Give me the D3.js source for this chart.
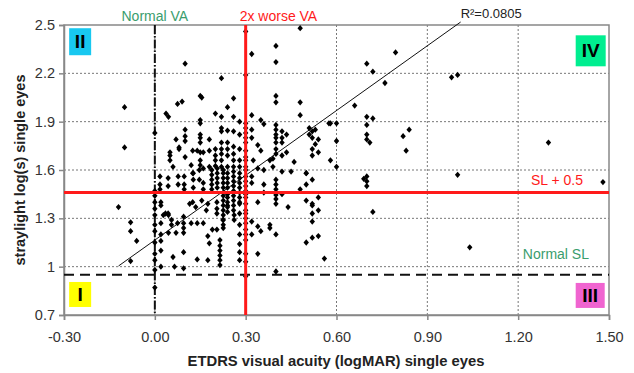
<!DOCTYPE html>
<html><head><meta charset="utf-8">
<script src="https://cdn.jsdelivr.net/npm/d3@7"></script>
<style>
html,body{margin:0;padding:0;background:#fff;}
svg text{font-family:Arial,"Liberation Sans",sans-serif;}
</style></head>
<body><svg id="c" width="634" height="373"></svg>
<script>
// ---- data ----
const xTicks = [-0.30, 0.00, 0.30, 0.60, 0.90, 1.20, 1.50];
const xTickLabels = ["-0.30","0.00","0.30","0.60","0.90","1.20","1.50"];
const yTicks = [0.7, 1.0, 1.3, 1.6, 1.9, 2.2, 2.5];
const yTickLabels = ["0.7","1","1.3","1.6","1.9","2.2","2.5"];
const normalVA = 0.00, worseVA = 0.30;
const normalSL = 0.95, slPlus = 1.46;
const regression = {slope: 1.34, intercept: 1.165, x0: -0.12, x1: 1.01, r2: "R²=0.0805"};
const points = [
[-0.10,1.99],[-0.10,1.74],[-0.12,1.37],[-0.08,1.275],[-0.08,1.22],[-0.06,1.16],[-0.08,1.035],
[0.10,2.26],[0.22,2.17],[0.30,2.46],[0.32,2.32],[0.40,2.37],[0.40,2.27],[0.30,2.19],[0.40,2.06],[0.40,2.02],[0.48,2.48],[0.48,2.02],[0.48,1.94],[0.32,1.94],[0.26,2.045],[0.24,1.99],[0.15,2.06],[0.155,2.05],[0.09,2.025],[0.075,2.01],[0.037,1.95],[0.045,1.93],[0.0,1.83],
[0.795,2.33],[0.70,2.26],[0.72,2.21],[0.76,2.14],[0.66,2.00],[0.98,2.175],[1.00,2.19],[0.70,1.93],[0.72,1.92],[0.70,1.88],[0.575,1.89],[0.58,1.89],[0.60,1.89],
[0.58,1.66],[0.60,1.62],[0.60,1.78],[0.70,1.82],[0.70,1.79],[0.71,1.77],[0.82,1.81],[0.84,1.85],[0.83,1.72],[1.30,1.77],[1.00,1.57],[0.69,1.545],[0.70,1.56],[0.70,1.53],[0.70,1.50],[1.48,1.525],
[0.52,1.38],[0.54,1.43],[0.52,1.33],[0.54,1.35],[0.52,1.28],[0.52,1.18],[0.54,1.19],[0.56,1.05],[0.72,1.34],[1.04,1.12],
[0.51,1.86],[0.52,1.84],[0.53,1.85],[0.51,1.82],[0.52,1.80],[0.54,1.79],[0.53,1.76],[0.52,1.73],[0.54,1.71],[0.52,1.69],[0.50,1.58],
[0.32,1.56],[0.32,1.52],[0.34,1.40],[0.32,1.28],[0.32,1.20],[0.34,1.25],[0.35,1.22],[0.34,1.08],[0.38,1.26],[0.38,1.24],[0.36,1.51],[0.36,1.46],
[0.40,1.54],[0.40,1.51],[0.40,1.48],[0.40,1.445],[0.40,1.42],[0.40,1.39],[0.42,1.45],[0.40,1.20],[0.44,1.37],[0.40,0.97],[0.48,1.48],[0.50,1.51],[0.50,1.58],[0.52,1.54],[0.50,1.41],[0.52,1.39],[0.50,1.15],[0.42,1.59],[0.45,1.59],
[0.35,1.91],[0.36,1.885],[0.40,1.88],[0.40,1.85],[0.40,1.82],[0.40,1.80],[0.40,1.77],[0.40,1.73],[0.42,1.84],[0.435,1.82],[0.42,1.80],[0.42,1.77],[0.32,1.85],[0.32,1.80],[0.34,1.755],[0.35,1.72],[0.40,1.70],[0.39,1.67],[0.42,1.69],[0.435,1.71],[0.46,1.65],[0.325,1.66],[0.34,1.61],[0.36,1.60],[0.38,1.66],[0.39,1.62],
[0.30,1.89],[0.30,1.86],[0.30,1.83],[0.30,1.80],[0.30,1.77],[0.30,1.72],[0.30,1.68],[0.30,1.66],[0.30,1.62],[0.30,1.60],[0.30,1.56],[0.30,1.53],[0.30,1.50],[0.30,1.39],[0.30,1.35],[0.30,1.33],[0.30,1.30],[0.30,1.27],[0.30,1.23],[0.30,1.20],[0.30,1.165],[0.30,1.08],[0.30,1.03],[0.30,0.94],
[0.20,1.95],[0.22,1.93],[0.26,1.93],[0.28,1.90],[0.15,1.91],[0.15,1.89],[0.10,1.85],[0.10,1.81],[0.10,1.78],[0.15,1.82],[0.15,1.80],[0.15,1.77],[0.18,1.79],[0.22,1.86],[0.22,1.84],[0.24,1.845],[0.26,1.84],[0.28,1.82],[0.08,1.74],[0.10,1.68],[0.125,1.72],[0.14,1.72],[0.15,1.71],[0.16,1.71],[0.18,1.72],[0.20,1.73],[0.20,1.69],[0.20,1.66],[0.22,1.77],[0.22,1.73],[0.22,1.70],[0.22,1.66],[0.24,1.77],[0.24,1.73],[0.24,1.69],[0.26,1.745],[0.26,1.70],[0.26,1.66],[0.28,1.73],[0.28,1.66],[0.28,1.62],[0.05,1.69],[0.05,1.66],[0.06,1.62],[0.12,1.63],[0.15,1.66],[0.15,1.63],[0.16,1.61],[0.18,1.62],[0.20,1.625],[0.22,1.62],[0.24,1.62],[0.26,1.62],[0.125,1.58],[0.07,1.79],[0.05,1.71],[0.08,1.73],
[0.017,1.56],[0.017,1.51],[0.017,1.48],[0.044,1.55],[0.044,1.50],[0.077,1.51],[0.077,1.56],[0.097,1.56],[0.097,1.51],[0.097,1.48],[0.127,1.54],[0.127,1.58],[0.127,1.49],[0.147,1.54],[0.147,1.60],[0.16,1.52],[0.16,1.48],
[0.188,1.57],[0.188,1.54],[0.188,1.51],[0.188,1.48],[0.188,1.60],[0.206,1.58],[0.206,1.55],[0.206,1.52],[0.206,1.49],[0.206,1.61],
[0.226,1.58],[0.226,1.55],[0.226,1.52],[0.226,1.49],[0.226,1.46],[0.226,1.60],[0.24,1.58],[0.24,1.55],[0.24,1.52],[0.24,1.49],[0.24,1.45],
[0.26,1.59],[0.26,1.56],[0.26,1.53],[0.26,1.50],[0.26,1.47],[0.26,1.44],[0.26,1.41],[0.26,1.38],[0.26,1.35],[0.28,1.58],[0.28,1.55],[0.28,1.52],[0.28,1.49],[0.28,1.46],[0.28,1.43],[0.30,1.47],[0.30,1.45],[0.30,1.43],
[0.226,1.44],[0.226,1.41],[0.226,1.38],[0.226,1.35],[0.226,1.32],[0.226,1.29],[0.226,1.26],[0.226,1.24],[0.24,1.37],[0.24,1.34],[0.262,1.32],[0.262,1.29],[0.28,1.40],[0.28,1.20],[0.28,1.14],
[0.0,1.47],[0.0,1.44],[0.0,1.40],[0.0,1.36],[0.0,1.32],[0.0,1.26],[0.0,1.22],[0.0,1.15],[0.0,1.08],[0.0,1.04],[0.0,0.98],[0.0,0.87],[0.02,1.40],[0.02,1.38],[0.035,1.33],[0.045,1.32],[0.02,1.27],[0.055,1.29],[0.055,1.26],[0.075,1.27],[0.045,1.21],[0.07,1.21],[0.095,1.31],[0.095,1.27],[0.095,1.24],[0.095,1.21],[0.115,1.39],[0.125,1.40],[0.135,1.37],[0.155,1.41],[0.175,1.39],[0.17,1.35],[0.12,1.27],[0.14,1.27],[0.16,1.27],[0.205,1.40],[0.205,1.36],[0.205,1.33],[0.175,1.19],[0.18,1.145],[0.19,1.23],[0.205,1.23],[0.215,1.165],[0.215,1.13],[0.215,1.10],[0.215,1.07],[0.215,1.04],[0.225,1.29],[0.095,1.09],[0.14,1.045],[0.175,1.04],[0.095,0.99],[0.065,1.0],[0.02,1.0],[0.24,1.43],[0.24,1.40],[0.24,1.38],[0.28,1.39],[0.28,1.33],[0.28,1.26],[0.28,1.04],[0.28,1.09],[0.215,1.01],
[0.02,1.20],[0.02,1.16],[0.02,1.10],[0.06,1.06],[0.028,1.32],[0.044,1.33]
];

// ---- chart ----
const svg = d3.select("#c");
const x = d3.scaleLinear().domain([-0.3, 1.5]).range([64, 609]);
const y = d3.scaleLinear().domain([0.7, 2.5]).range([315, 25]);
const green = "#3a9d6d", red = "#ff1a1a";

// gridlines
svg.append("g").selectAll("line").data(yTicks.slice(1, -1)).join("line")
  .attr("x1", x(-0.3)).attr("x2", x(1.5)).attr("y1", d => y(d)).attr("y2", d => y(d))
  .attr("stroke", "#777").attr("stroke-width", 1).attr("stroke-dasharray", "2,2");
svg.append("g").selectAll("line").data(xTicks.slice(1, -1)).join("line")
  .attr("y1", y(0.7)).attr("y2", y(2.5)).attr("x1", d => x(d)).attr("x2", d => x(d))
  .attr("stroke", "#777").attr("stroke-width", 1).attr("stroke-dasharray", "2,2");

// frame
svg.append("rect").attr("x", x(-0.3)).attr("y", y(2.5))
  .attr("width", x(1.5) - x(-0.3)).attr("height", y(0.7) - y(2.5))
  .attr("fill", "none").attr("stroke", "#888").attr("stroke-width", 1.5);

// axes
const yAxis = svg.append("g").attr("transform", `translate(${x(-0.3)},0)`)
  .call(d3.axisLeft(y).tickValues(yTicks).tickFormat((d, i) => yTickLabels[i]).tickSize(5).tickPadding(4));
const xAxis = svg.append("g").attr("transform", `translate(0,${y(0.7)})`)
  .call(d3.axisBottom(x).tickValues(xTicks).tickFormat((d, i) => xTickLabels[i]).tickSize(5).tickPadding(12));
[yAxis, xAxis].forEach(g => {
  g.select(".domain").attr("stroke", "#888").attr("stroke-width", 1.5);
  g.selectAll(".tick line").attr("stroke", "#888").attr("stroke-width", 1.5);
  g.selectAll(".tick text").attr("fill", "#333").style("font-size", "14.5px")
    .style("font-family", "Arial, 'Liberation Sans', sans-serif");
});

// quadrant boxes
const quads = [
  {t: "II", x0: -0.283, y0: 2.48, w: 22, h: 27, c: "#18c8f0"},
  {t: "IV", x0: 1.39, y0: 2.436, w: 30, h: 31, c: "#00ee90"},
  {t: "I", x0: -0.283, y0: 0.905, w: 22, h: 25, c: "#ffff00"},
  {t: "III", x0: 1.39, y0: 0.899, w: 29, h: 25, c: "#f064d0"}
];
quads.forEach(q => {
  const g = svg.append("g");
  g.append("rect").attr("x", x(q.x0)).attr("y", y(q.y0)).attr("width", q.w).attr("height", q.h).attr("fill", q.c);
  g.append("text").attr("x", x(q.x0) + q.w / 2).attr("y", y(q.y0) + q.h / 2 + 6.5)
    .attr("text-anchor", "middle").attr("font-weight", "bold").attr("font-size", 19).attr("fill", "#000").text(q.t);
});

// reference lines
svg.append("line").attr("x1", x(normalVA)).attr("x2", x(normalVA)).attr("y1", y(2.5)).attr("y2", y(0.7))
  .attr("stroke", "#111").attr("stroke-width", 2).attr("stroke-dasharray", "9,2,1.5,2");
svg.append("line").attr("x1", x(-0.3)).attr("x2", x(1.5)).attr("y1", y(normalSL)).attr("y2", y(normalSL))
  .attr("stroke", "#111").attr("stroke-width", 2).attr("stroke-dasharray", "10,6");

// regression line
svg.append("line")
  .attr("x1", x(regression.x0)).attr("y1", y(regression.intercept + regression.slope * regression.x0))
  .attr("x2", x(regression.x1)).attr("y2", y(regression.intercept + regression.slope * regression.x1))
  .attr("stroke", "#111").attr("stroke-width", 1);

// points: Excel-style diamond marker
const diamond = {
  draw(ctx, size) {
    const w = Math.sqrt(size) * 0.62, h = Math.sqrt(size) * 0.72;
    ctx.moveTo(0, -h); ctx.lineTo(w, 0); ctx.lineTo(0, h); ctx.lineTo(-w, 0); ctx.closePath();
  }
};
svg.append("g").selectAll("path").data(points).join("path")
  .attr("transform", d => `translate(${x(d[0])},${y(d[1])})`)
  .attr("d", d3.symbol().type(diamond).size(19)).attr("fill", "#000");

// red lines
svg.append("line").attr("x1", x(worseVA)).attr("x2", x(worseVA)).attr("y1", y(2.5)).attr("y2", y(0.7))
  .attr("stroke", red).attr("stroke-width", 3);
svg.append("line").attr("x1", x(-0.3)).attr("x2", x(1.5)).attr("y1", y(slPlus)).attr("y2", y(slPlus))
  .attr("stroke", red).attr("stroke-width", 3);

// annotations
svg.append("text").attr("x", x(normalVA)).attr("y", 21).attr("text-anchor", "middle")
  .attr("font-size", 14).attr("fill", green).text("Normal VA");
svg.append("text").attr("x", x(worseVA) - 6).attr("y", 21)
  .attr("font-size", 14).attr("fill", red).text("2x worse VA");
svg.append("text").attr("x", x(regression.x1)).attr("y", 18)
  .attr("font-size", 13).attr("fill", "#222").text(regression.r2);
svg.append("text").attr("x", 583).attr("y", y(slPlus) - 8).attr("text-anchor", "end")
  .attr("font-size", 14).attr("fill", red).text("SL + 0.5");
svg.append("text").attr("x", 589).attr("y", y(normalSL) - 16).attr("text-anchor", "end")
  .attr("font-size", 14).attr("fill", green).text("Normal SL");

// axis titles
svg.append("text").attr("x", 336).attr("y", 366).attr("text-anchor", "middle")
  .attr("font-size", 14.8).attr("font-weight", "bold").attr("fill", "#222")
  .text("ETDRS visual acuity (logMAR) single eyes");
svg.append("text").attr("transform", "translate(25,170) rotate(-90)").attr("text-anchor", "middle")
  .attr("font-size", 14.5).attr("font-weight", "bold").attr("fill", "#222")
  .text("straylight log(s) single eyes");
</script></body></html>
